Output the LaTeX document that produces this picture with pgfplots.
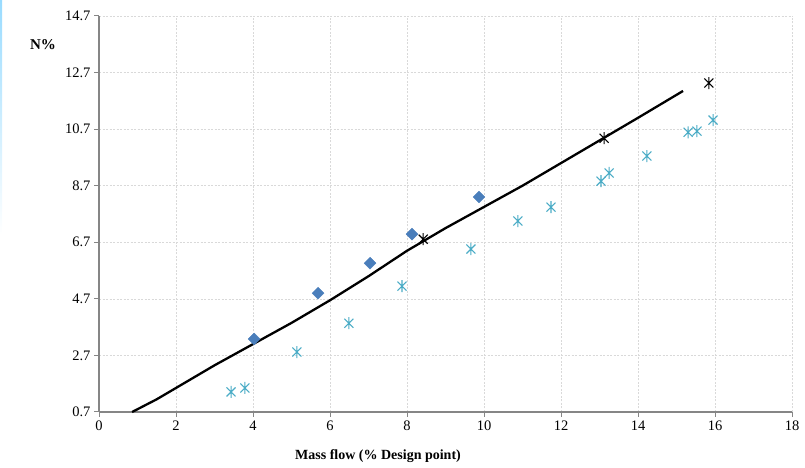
\documentclass[border=0pt]{standalone}
\usepackage{pgfplots}
\pgfplotsset{compat=1.18}
\usepackage{fontspec}
\setmainfont{Liberation Serif}
\definecolor{dblue}{HTML}{4A7EBB}
\definecolor{aqua}{HTML}{4BACC6}
\definecolor{axgrey}{HTML}{868686}
\definecolor{gridgrey}{HTML}{D9D9D9}
% Excel-style star: an x with a vertical bar
\pgfdeclareplotmark{xstar}{%
  \pgfpathmoveto{\pgfqpoint{-0.75\pgfplotmarksize}{-0.75\pgfplotmarksize}}%
  \pgfpathlineto{\pgfqpoint{0.75\pgfplotmarksize}{0.75\pgfplotmarksize}}%
  \pgfpathmoveto{\pgfqpoint{-0.75\pgfplotmarksize}{0.75\pgfplotmarksize}}%
  \pgfpathlineto{\pgfqpoint{0.75\pgfplotmarksize}{-0.75\pgfplotmarksize}}%
  \pgfpathmoveto{\pgfqpoint{0pt}{-\pgfplotmarksize}}%
  \pgfpathlineto{\pgfqpoint{0pt}{\pgfplotmarksize}}%
  \pgfusepathqstroke}
\begin{document}
\begin{tikzpicture}
\useasboundingbox (0,0) rectangle (805bp,468bp);
\shade[top color=blue!35!cyan!40,bottom color=white] (0,233bp) rectangle (2bp,468bp);
\begin{axis}[at={(99bp,56bp)},anchor=south west,scale only axis,
  width=693bp,height=396bp,
  xmin=0,xmax=18,ymin=0.7,ymax=14.7,
  xtick={0,2,...,18},ytick={0.7,2.7,4.7,6.7,8.7,10.7,12.7,14.7},
  yticklabel style={/pgf/number format/.cd,fixed,fixed zerofill,precision=1},
  /pgf/number format/assume math mode=true,
  axis x line*=bottom,axis y line*=left,
  axis line style={axgrey,line width=1.2bp,-},
  tick style={axgrey,line width=1bp},tickwidth=5bp,
  xtick align=outside,ytick align=outside,
  grid=major,major grid style={gridgrey,dash pattern=on 2bp off 1.5bp,line width=0.6bp},
  tick label style={font=\fontsize{14.5bp}{16bp}\selectfont},
  clip=false]
\addplot[black,line width=2.3bp] coordinates {
(0.86,0.7)(1.5,1.15)(2,1.55)(3,2.35)(4,3.1)(5,3.85)(6,4.65)(7,5.5)(8,6.4)
(9,7.2)(10,7.95)(11,8.7)(12,9.5)(13,10.3)(14,11.1)(15.17,12.05)};
\addplot[only marks,mark=square*,mark size=4.2bp,mark options={rotate=45,dblue}] coordinates {
(4.03,3.28)(5.69,4.90)(7.04,5.96)(8.13,6.99)(9.87,8.30)};
\addplot[only marks,mark=xstar,mark size=6bp,mark options={aqua,line width=1.1bp}] coordinates {
(3.43,1.41)(3.79,1.55)(5.14,2.82)(6.49,3.84)(7.87,5.15)(9.66,6.46)(10.88,7.45)
(11.74,7.94)(13.04,8.86)(13.25,9.15)(14.23,9.75)(15.30,10.59)(15.53,10.63)(15.95,11.02)};
\addplot[only marks,mark=xstar,mark size=6bp,mark options={black,line width=1.1bp}] coordinates {
(8.42,6.81)(13.12,10.38)(15.84,12.33)};
\end{axis}
\node[font=\bfseries\fontsize{15bp}{18bp}\selectfont] at (43bp,423bp) {N\%};
\node[font=\bfseries\fontsize{14bp}{17bp}\selectfont] at (378bp,12bp) {Mass flow (\% Design point)};
\end{tikzpicture}
\end{document}
